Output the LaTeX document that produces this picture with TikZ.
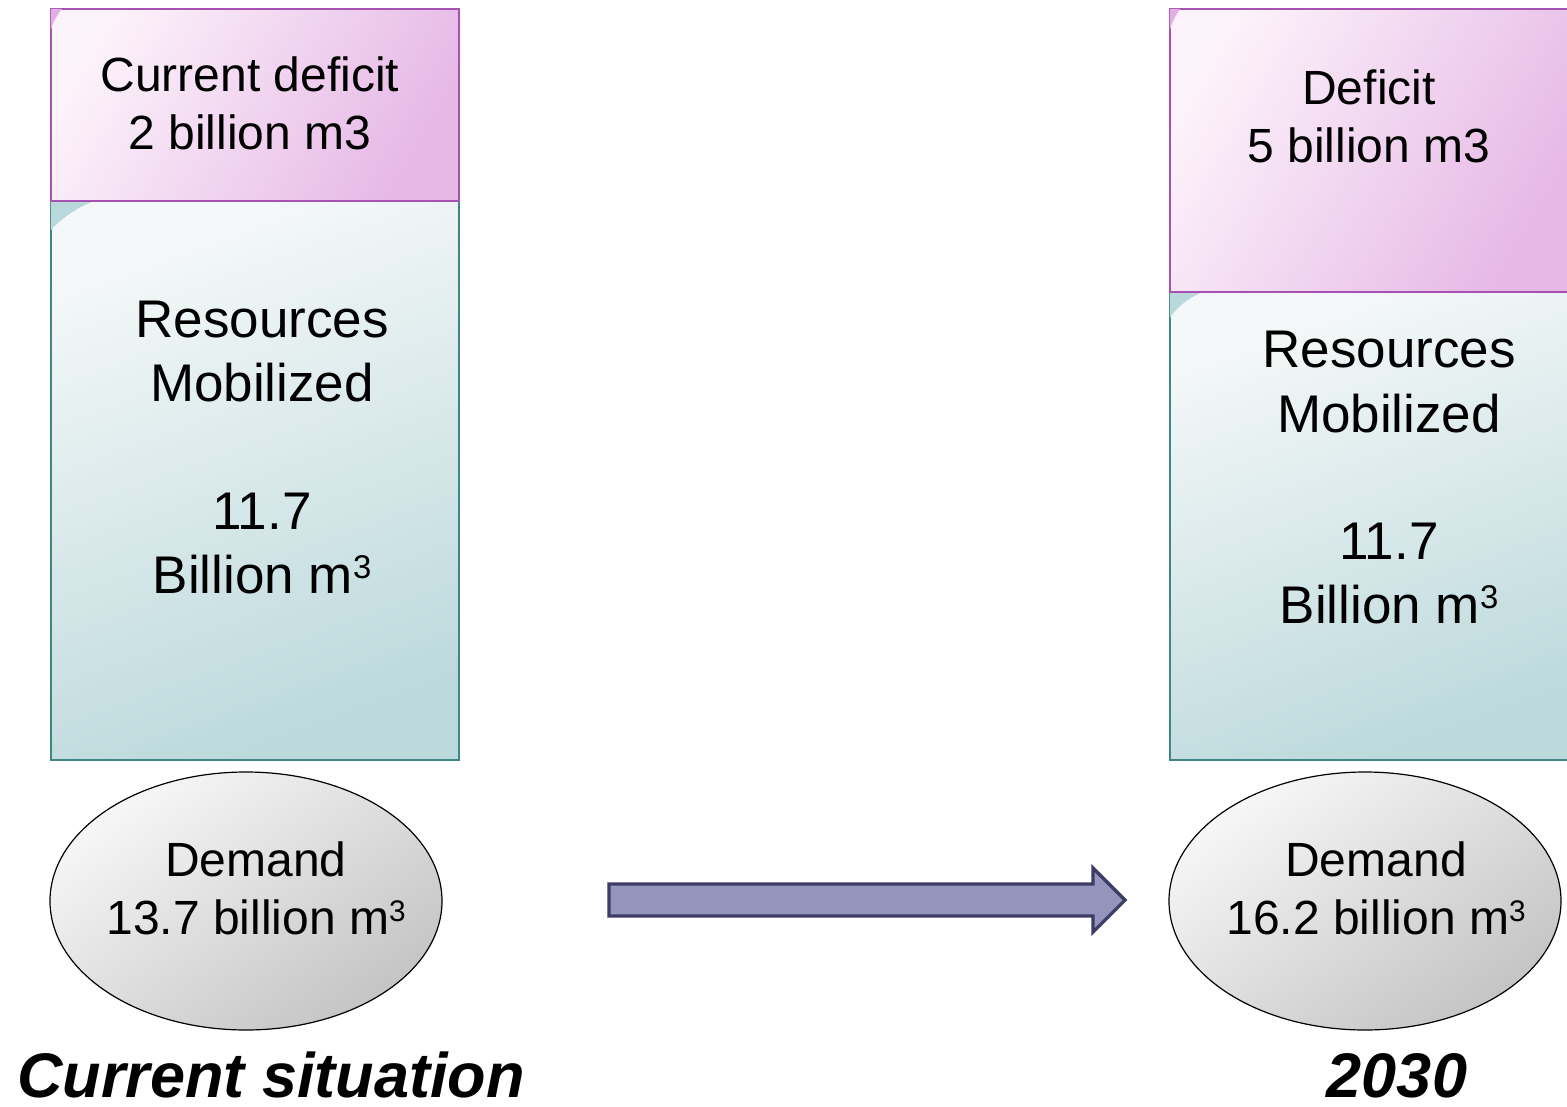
\documentclass[tikz,border=0pt]{standalone}
\usepackage{fontspec}
\setmainfont{Liberation Sans}
\usetikzlibrary{shapes.geometric,shapes.arrows}
\newcommand\mysupx[1]{\raisebox{0.27em}{\scalebox{0.62}{#1}}}
\definecolor{pinkA}{HTML}{FCF2FA}
\definecolor{pinkB}{HTML}{E6B8E6}
\definecolor{pinkEdge}{HTML}{A552B0}
\definecolor{tealA}{HTML}{F5F8F8}
\definecolor{tealB}{HTML}{BCD9DC}
\definecolor{tealEdge}{HTML}{3F8686}
\definecolor{tealTri}{HTML}{B8D8DC}
\definecolor{pinkTri}{HTML}{E3AEE3}
\definecolor{greyA}{HTML}{F7F7F7}
\definecolor{greyB}{HTML}{C4C4C4}
\definecolor{arrFill}{HTML}{9494BC}
\definecolor{arrEdge}{HTML}{3C3C64}
\tikzset{
  pinkbox/.style={draw=pinkEdge, line width=1.6pt, rectangle, inner sep=0pt,
    top color=pinkA, bottom color=pinkB, shading angle=60},
  tealbox/.style={draw=tealEdge, line width=1.6pt, rectangle, inner sep=0pt,
    top color=tealA, bottom color=tealB, shading angle=20},
  demand/.style={draw=black, line width=1.2pt, ellipse, inner sep=0pt,
    top color=greyA, bottom color=greyB, shading angle=35},
  txt/.style={align=center, inner sep=0pt, font=\fontsize{48}{58}\selectfont},
  bigtxt/.style={align=center, inner sep=0pt, font=\fontsize{53}{64}\selectfont},
  caption/.style={inner sep=0pt, anchor=base, font=\fontsize{63}{70}\selectfont\bfseries\itshape}
}
\begin{document}
\begin{tikzpicture}[x=1pt,y=-1pt]
\useasboundingbox (0,0) rectangle (1567,1107);
% left column
\node[tealbox, minimum width=408pt, minimum height=559pt, anchor=north west] (res1) at (50,200) {};
\fill[tealTri] (50.8,200.8) -- (95,200.8) .. controls (75,208) and (60,220) .. (50.8,230) -- cycle;
\node[pinkbox, minimum width=408pt, minimum height=192pt, anchor=north west] (def1) at (50,8) {};
\fill[pinkTri] (50.8,8.8) -- (62,8.8) .. controls (57,15) and (53,22) .. (50.8,30) -- cycle;
\node[txt, anchor=base] (def1t) at (250,92) {Current deficit};
\node[txt, anchor=base] (def1u) at (250,150) {2 billion m3};
\node[bigtxt, anchor=base] (res1a) at (262,338) {Resources};
\node[bigtxt, anchor=base] (res1b) at (262,402) {Mobilized};
\node[bigtxt, anchor=base] (res1c) at (262,529) {11.7};
\node[bigtxt, anchor=base] (res1d) at (262,593) {Billion m\mysupx{3}};
\node[demand, minimum width=392pt, minimum height=258pt] (dem1) at (246,901) {};
\node[txt, anchor=base] (dem1a) at (256,876) {Demand};
\node[txt, anchor=base] (dem1b) at (256,934) {13.7 billion m\mysupx{3}};
\node[caption] (cap1) at (271,1097) {Current situation};
% right column
\node[tealbox, minimum width=400pt, minimum height=468pt, anchor=north west] (res2) at (1169,291) {};
\fill[tealTri] (1169.8,291.8) -- (1203,291.8) .. controls (1188,298) and (1176,308) .. (1169.8,318) -- cycle;
\node[pinkbox, minimum width=400pt, minimum height=283pt, anchor=north west] (def2) at (1169,8) {};
\fill[pinkTri] (1169.8,8.8) -- (1180,8.8) .. controls (1176,15) and (1172,22) .. (1169.8,30) -- cycle;
\node[txt, anchor=base] (def2t) at (1369,105) {Deficit};
\node[txt, anchor=base] (def2u) at (1369,163) {5 billion m3};
\node[bigtxt, anchor=base] (res2a) at (1389,368) {Resources};
\node[bigtxt, anchor=base] (res2b) at (1389,432) {Mobilized};
\node[bigtxt, anchor=base] (res2c) at (1389,559) {11.7};
\node[bigtxt, anchor=base] (res2d) at (1389,623) {Billion m\mysupx{3}};
\node[demand, minimum width=392pt, minimum height=258pt] (dem2) at (1365,901) {};
\node[txt, anchor=base] (dem2a) at (1376,876) {Demand};
\node[txt, anchor=base] (dem2b) at (1376,934) {16.2 billion m\mysupx{3}};
\node[caption] (cap2) at (1397,1097) {2030};
% arrow
\coordinate (aS) at (609,900);
\coordinate (aT) at (1125,900);
\draw[arrEdge, fill=arrFill, line width=3.2pt, line join=miter]
  (609,884) -- (1093,884) -- (1093,868) -- (aT) -- (1093,932) -- (1093,916) -- (609,916) -- cycle;
\end{tikzpicture}
\end{document}
